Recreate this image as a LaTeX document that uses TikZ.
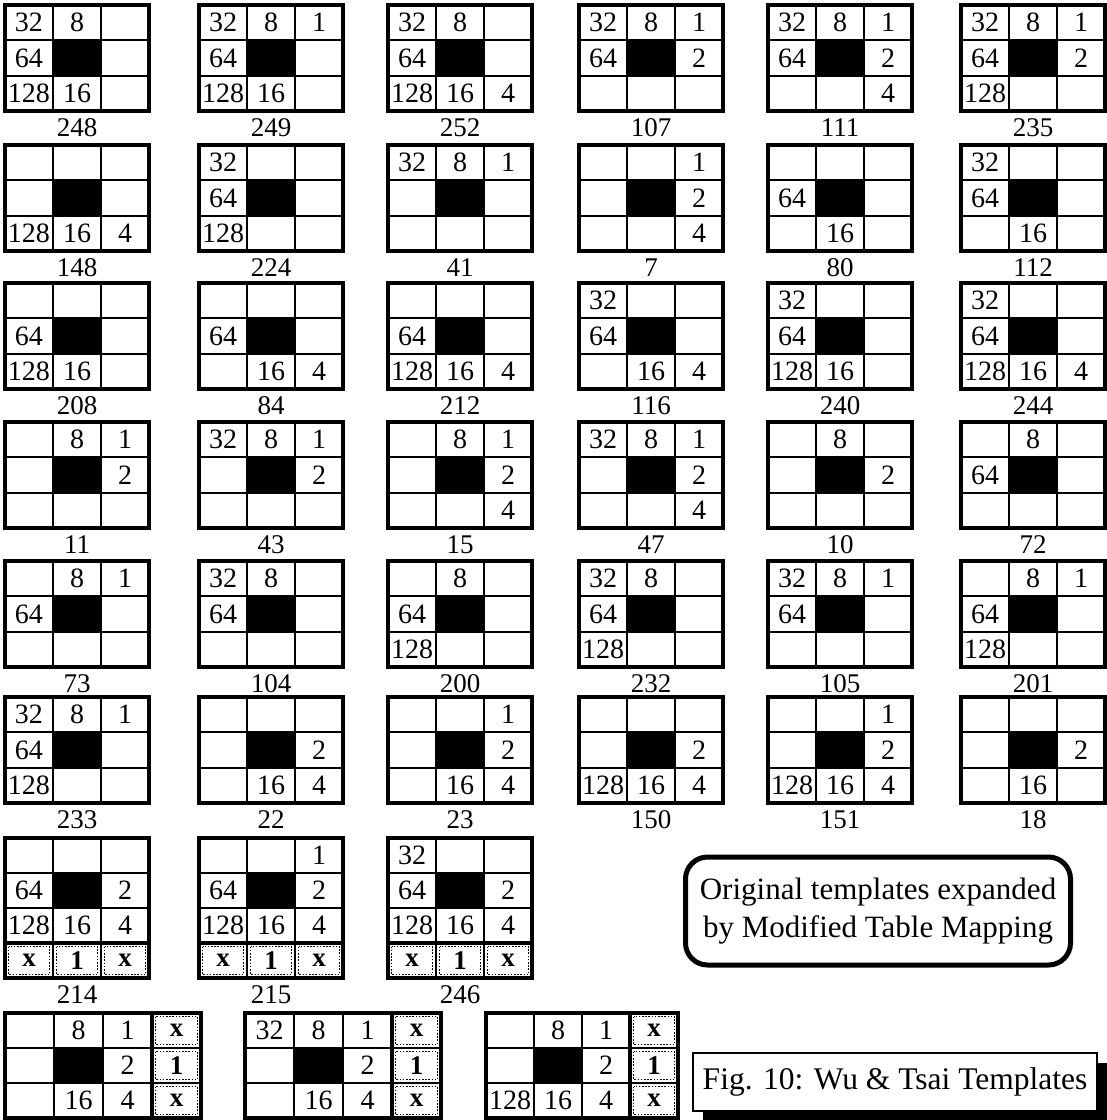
\documentclass[tikz,border=0pt]{standalone}
\usepackage{fontspec}
\setmainfont{Liberation Serif}
\newcommand\tpl[6]{%
  \begin{scope}[shift={(#1,#2)}]
    \fill (#3,#4) rectangle (2*#3,2*#4);
    \draw[inner] (#3,0) -- (#3,3*#4) (2*#3,0) -- (2*#3,3*#4)
                 (0,#4) -- (3*#3,#4) (0,2*#4) -- (3*#3,2*#4);
    \foreach \b/\c/\r in {32/0/0,8/1/0,1/2/0,64/0/1,2/2/1,128/0/2,16/1/2,4/2/2}{
      \pgfmathtruncatemacro\bit{mod(floor(#5/\b),2)}
      \ifnum\bit=1 \node[num] (n#5-\b) at ({(\c+0.5)*#3},{(\r+0.5)*#4}) {\b};\fi
    }
    \draw[outer] (0,0) rectangle (3*#3,3*#4);
    \if\relax\detokenize{#6}\relax\else
      \node[lbl] (lab#5) at (1.5*#3,3*#4+17) {#6};
    \fi
  \end{scope}}
\newcommand\xrow[5]{% left top cw ch value : extra row below, label under
  \begin{scope}[shift={(#1,#2)}]
    \foreach \t [count=\k from 0] in {x,1,x}{
      \draw[dotcell] (\k*#3+3.5,3*#4+3.5) rectangle ({(\k+1)*#3-3.5},4*#4-3.5);
      \node[xmark] (x#5-\k) at ({(\k+0.5)*#3},3.5*#4) {\t};
    }
    \draw[inner] (#3,3*#4) -- (#3,4*#4) (2*#3,3*#4) -- (2*#3,4*#4);
    \draw[outer] (0,0) rectangle (3*#3,4*#4);
    \node[lbl] (lab#5) at (1.5*#3,4*#4+17) {#5};
  \end{scope}}
\newcommand\xcol[5]{% left top cw ch value : extra column on the right
  \begin{scope}[shift={(#1,#2)}]
    \foreach \t [count=\k from 0] in {x,1,x}{
      \draw[dotcell] (3*#3+3.5,\k*#4+3.5) rectangle (4*#3-3.5,{(\k+1)*#4-3.5});
      \node[xmark] (x#5-\k) at (3.5*#3,{(\k+0.5)*#4}) {\t};
    }
    \draw[inner] (3*#3,#4) -- (4*#3,#4) (3*#3,2*#4) -- (4*#3,2*#4);
    \draw[outer] (0,0) rectangle (4*#3,3*#4);
  \end{scope}}
\begin{document}
\begin{tikzpicture}[x=1pt,y=-1pt,
  outer/.style={line width=4pt},
  inner/.style={line width=2.1pt},
  num/.style={font=\fontsize{28}{28}\selectfont, inner sep=0pt},
  lbl/.style={font=\fontsize{27}{27}\selectfont, inner sep=0pt},
  xmark/.style={font=\fontsize{27}{27}\selectfont\bfseries, inner sep=0pt},
  dotcell/.style={line width=1.9pt, dash pattern=on 1.6pt off 1.6pt},
  callout/.style={draw, line width=5pt, rounded corners=22pt, inner sep=0pt,
    align=center, font=\fontsize{31}{38}\selectfont},
  capbox/.style={draw, fill=white, line width=1.8pt, inner sep=0pt,
    font=\fontsize{31.5}{31.5}\selectfont}]
\useasboundingbox (0,0) rectangle (1107,1120);
\fill[white] (0,0) rectangle (1107,1120);
\foreach \top/\vals in {5/{248,249,252,107,111,235},
                        145/{148,224,41,7,80,112},
                        283/{208,84,212,116,240,244},
                        422/{11,43,15,47,10,72},
                        561/{73,104,200,232,105,201},
                        697/{233,22,23,150,151,18}}{
  \foreach \v [count=\i from 0] in \vals {
    \pgfmathtruncatemacro\cx{{5,199,388,579,768,961}[\i]}
    \tpl{\cx}{\top}{48}{35.33}{\v}{\v}
  }
}
% row 7: templates with an extra row
\tpl{5}{838}{48}{35}{214}{}
\xrow{5}{838}{48}{35}{214}
\tpl{199}{838}{48}{35}{215}{}
\xrow{199}{838}{48}{35}{215}
\tpl{388}{838}{48}{35}{246}{}
\xrow{388}{838}{48}{35}{246}
% row 8: templates with an extra column
\tpl{5}{1013}{49}{35}{31}{}
\xcol{5}{1013}{49}{35}{31}
\tpl{245}{1013}{49}{35}{63}{}
\xcol{245}{1013}{49}{35}{63}
\tpl{486}{1013}{48}{35}{159}{}
\xcol{486}{1013}{48}{35}{159}
% notes
\node[callout, minimum width=385pt, minimum height=108pt] (note) at (878,911)
  {Original templates expanded\\by Modified Table Mapping};
\fill (703,1063) rectangle (1107,1120);
\node[capbox, minimum width=404pt, minimum height=58pt] (cap) at (895,1082)
  {Fig. 10: Wu \& Tsai Templates};
\end{tikzpicture}
\end{document}
